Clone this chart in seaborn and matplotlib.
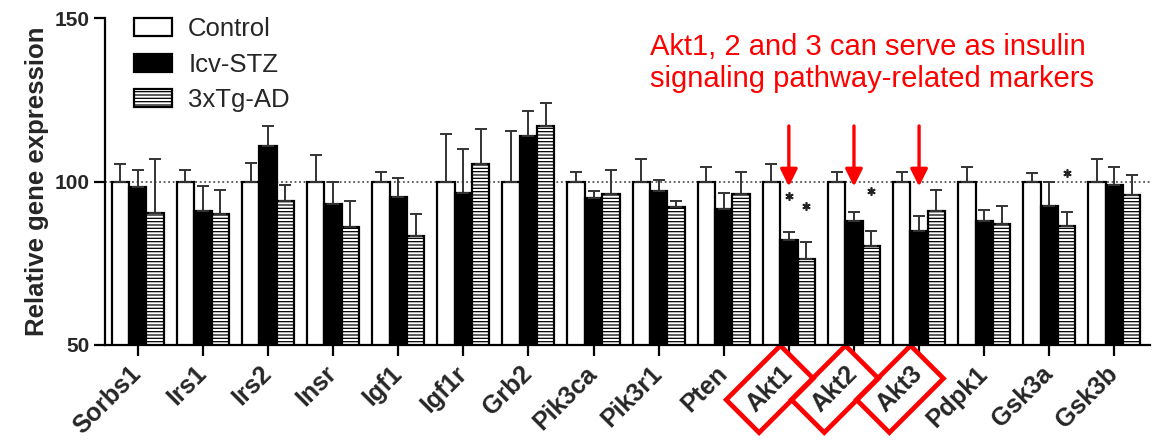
import matplotlib
matplotlib.use("Agg")
import matplotlib.pyplot as plt
from matplotlib.patches import Patch
import numpy as np
import pandas as pd
import seaborn as sb

# values
genes = ["Sorbs1", "Irs1", "Irs2", "Insr", "Igf1", "Igf1r", "Grb2", "Pik3ca",
         "Pik3r1", "Pten", "Akt1", "Akt2", "Akt3", "Pdpk1", "Gsk3a", "Gsk3b"]
groups = ["Control", "Icv-STZ", "3xTg-AD"]

control = [100, 100, 100, 100, 100, 100, 100, 100, 100, 100, 100, 100, 100, 100, 100, 100]
control_sem = [5.5, 3.5, 5.8, 8, 3, 14.5, 15.4, 2.8, 7, 4.3, 5.5, 3, 3, 4.3, 2.5, 6.8]
icv_stz = [98.4, 91, 111, 93, 95.4, 96.6, 114, 95, 97, 91.7, 82, 88, 85, 88, 92.6, 98.8]
icv_stz_sem = [5.1, 7.5, 6, 7, 5.6, 13.4, 7.5, 2.2, 3.6, 4.9, 2.6, 2.7, 4.5, 3.4, 7.4, 5.8]
tg_ad = [90.5, 90, 94, 86, 83.4, 105.5, 117, 96.3, 92.3, 96.3, 76.3, 80.3, 91, 87, 86.5, 96]
tg_ad_sem = [16.3, 7.5, 4.8, 8, 6.8, 10.5, 7, 7.1, 1.7, 6.7, 5.2, 4.7, 6.5, 5.6, 4.3, 6]

# significance stars: (gene, group, height)
star_genes = ["Akt1", "Akt1", "Akt2", "Gsk3a"]
star_groups = ["Icv-STZ", "3xTg-AD", "3xTg-AD", "3xTg-AD"]
star_heights = [95.5, 92.5, 97, 102.5]

marked = ["Akt1", "Akt2", "Akt3"]
note = "Akt1, 2 and 3 can serve as insulin\nsignaling pathway-related markers"

sb.set_style("ticks")
plt.rcParams["font.family"] = ["Liberation Sans", "DejaVu Sans"]
plt.rcParams["hatch.linewidth"] = 0.9
plt.rcParams["hatch.color"] = "#666666"

df = pd.DataFrame({
    "gene": genes * 3,
    "group": sum([[g] * len(genes) for g in groups], []),
    "value": control + icv_stz + tg_ad,
})
sems = [control_sem, icv_stz_sem, tg_ad_sem]

fig = plt.figure(figsize=(11.56, 4.42), dpi=100)
ax = fig.add_axes([0.091, 0.2195, 0.904, 0.7395])

ax.axhline(100, ls=(0, (1, 1.5)), color="#555555", lw=1.3, zorder=0.5)

sb.barplot(data=df, x="gene", y="value", hue="group", order=genes, hue_order=groups,
           palette=["white", "black", "white"], edgecolor="black", linewidth=1.6,
           saturation=1, errorbar=None, width=0.8, legend=False, ax=ax, zorder=2)

bar_sets = list(ax.containers)
centers = {}
for gi, cont in enumerate(bar_sets):
    xs = np.array([p.get_x() + p.get_width() / 2 for p in cont])
    ys = np.array([p.get_height() + p.get_y() for p in cont])
    for gene, x in zip(genes, xs):
        centers[(gene, groups[gi])] = x
    if groups[gi] == "3xTg-AD":
        for p in cont:
            p.set_hatch("-----")
    ax.errorbar(xs, ys, yerr=[np.zeros(len(ys)), sems[gi]], fmt="none",
                ecolor="#333333", elinewidth=1.4, capsize=4, capthick=1.4, zorder=3)

sx = [centers[(g, k)] for g, k in zip(star_genes, star_groups)]
ax.plot(sx, star_heights, ls="none", marker=(6, 2, 0), ms=6, mew=1.2, color="#222222", zorder=4)

for gene in marked:
    i = genes.index(gene)
    ax.annotate("", xy=(i, 98.5), xytext=(i, 117),
                arrowprops=dict(arrowstyle="-|>", color="red", lw=2.4, mutation_scale=26,
                                shrinkA=0, shrinkB=0), zorder=5)

ax.set_ylim(50, 150)
ax.set_yticks([50, 100, 150])
ax.set_xlim(-0.5, 15.55)
for lab in ax.get_yticklabels():
    lab.set_fontweight("bold")
    lab.set_fontsize(15)
ax.set_ylabel("Relative gene expression", fontsize=18.5, fontweight="bold", labelpad=4)
ax.set_xlabel("")
ax.set_xticks(range(len(genes)), genes, rotation=45, ha="right", va="center",
              rotation_mode="anchor", fontsize=18, fontweight="bold")
for lab in ax.get_xticklabels():
    if lab.get_text() in marked:
        lab.set_bbox(dict(boxstyle="square,pad=0.45", fc="none", ec="red", lw=3.4))

ax.tick_params(axis="both", length=8, width=1.6, color="black", pad=3)
ax.tick_params(axis="x", pad=10)
sb.despine(ax=ax)
for s in ["left", "bottom"]:
    ax.spines[s].set_linewidth(1.6)
    ax.spines[s].set_color("black")

handles = [Patch(facecolor="white", edgecolor="black", linewidth=1.6),
           Patch(facecolor="black", edgecolor="black", linewidth=1.6),
           Patch(facecolor="white", edgecolor="black", linewidth=1.6, hatch="-----")]
ax.legend(handles, groups, loc="upper left", bbox_to_anchor=(0.018, 1.035), frameon=False,
          fontsize=18.5, handlelength=1.45, handleheight=0.7, labelspacing=0.45,
          handletextpad=0.65, borderaxespad=0)

fig.text(650 / 1156, 1 - 33 / 442, note, color="red", fontsize=21, ha="left", va="top",
         linespacing=1.17)

fig.savefig("out.png", dpi=100)
